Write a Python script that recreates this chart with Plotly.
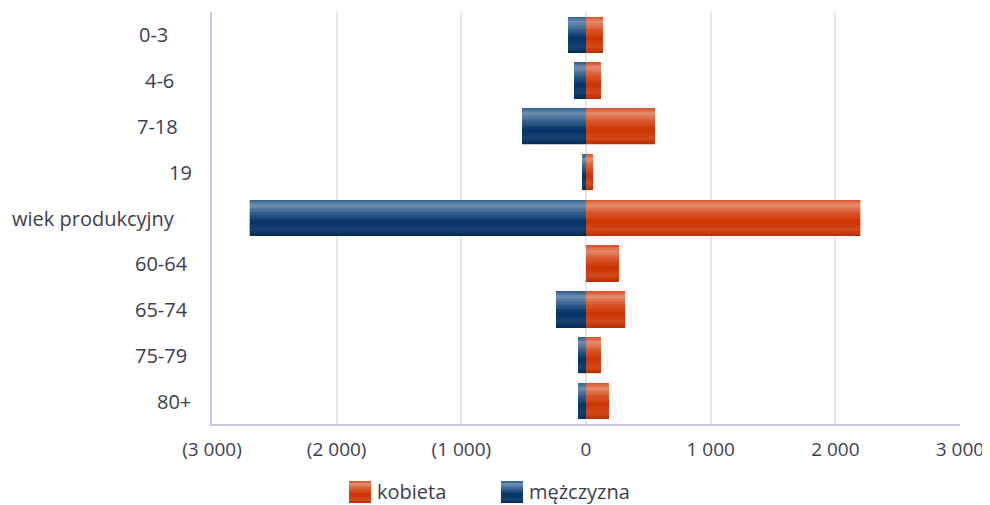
import plotly.graph_objects as go

categories = ["0-3", "4-6", "7-18", "19", "wiek produkcyjny", "60-64", "65-74", "75-79", "80+"]
kobieta = [136, 120, 553, 56, 2200, 265, 313, 120, 184]
mezczyzna = [-144, -96, -513, -32, -2697, 0, -241, -64, -64]
tick_vals = [-3000, -2000, -1000, 0, 1000, 2000, 3000]
tick_text = ["(3 000)", "(2 000)", "(1 000)", "0", "1 000", "2 000", "3 000"]
series_names = ["kobieta", "mężczyzna"]

# layout constants (pixels of the browser window; the page body has an 8px margin)
OFF = 8
W_PX, H_PX = 990 - OFF, 505 - OFF
L, R, T, B = 212 - OFF, 30, 12 - OFF, 81
PW, PH = W_PX - L - R, H_PX - T - B
# centre of each category label, in window pixels
label_centers = [153, 159, 157, 180, 93, 161, 161, 161, 174]

blue_stops = [(0.0, "#2d5b8b"), (0.15, "#6f8fb1"), (0.35, "#3b6491"), (0.62, "#003366"),
              (0.85, "#174271"), (1.0, "#002b58")]
red_stops = [(0.0, "#d84e26"), (0.15, "#e48d70"), (0.35, "#d95a30"), (0.62, "#cc3300"),
             (0.85, "#d1481c"), (1.0, "#b83000")]


def hex2rgb(h):
    h = h.lstrip("#")
    return tuple(int(h[i:i + 2], 16) for i in (0, 2, 4))


def interp(stops, t):
    for (t0, c0), (t1, c1) in zip(stops[:-1], stops[1:]):
        if t0 <= t <= t1:
            a = (t - t0) / (t1 - t0) if t1 > t0 else 0
            r0, g0, b0 = hex2rgb(c0)
            r1, g1, b1 = hex2rgb(c1)
            return "rgb(%d,%d,%d)" % (round(r0 + (r1 - r0) * a), round(g0 + (g1 - g0) * a),
                                      round(b0 + (b1 - b0) * a))
    return stops[-1][1]


def px_x(px):  # window pixel -> paper x
    return (px - OFF - L) / PW


def px_y(py):  # window pixel -> paper y
    return (H_PX - B - (py - OFF)) / PH


fig = go.Figure()
N = 26
Wb = 0.78
step = Wb / N
for vals, stops in [(kobieta, red_stops), (mezczyzna, blue_stops)]:
    for i in range(N):
        t = (i + 0.5) / N
        fig.add_trace(go.Bar(
            y=categories, x=vals, orientation="h",
            offset=-Wb / 2 + i * step, width=step * 1.15 if i < N - 1 else step,
            marker=dict(color=interp(stops, t), line=dict(width=0)),
            showlegend=False, hoverinfo="skip",
        ))

text_color = "#3d3d52"
shapes = []
annotations = []

# category labels (placed on the category axis by index)
for idx, (cat, cx) in enumerate(zip(categories, label_centers)):
    annotations.append(dict(x=px_x(cx), xref="paper", y=idx, yref="y",
                            text=cat, showarrow=False, xanchor="center", yanchor="middle",
                            font=dict(size=20, color=text_color)))

# legend (gradient squares + text)
legend_items = [(series_names[0], red_stops, 349), (series_names[1], blue_stops, 501)]
sq = 22
ytop, ybot = 481, 503
NS = 11
for name, stops, x0 in legend_items:
    for i in range(NS):
        y0p = ytop + i * (ybot - ytop) / NS
        y1p = ytop + (i + 1.15) * (ybot - ytop) / NS if i < NS - 1 else ybot
        shapes.append(dict(type="rect", xref="paper", yref="paper",
                           x0=px_x(x0), x1=px_x(x0 + sq),
                           y0=px_y(y0p), y1=px_y(y1p),
                           fillcolor=interp(stops, (i + 0.5) / NS), line=dict(width=0), layer="above"))
    annotations.append(dict(x=px_x(x0 + sq + 4), xref="paper",
                            y=px_y((ytop + ybot) / 2), yref="paper",
                            text=name, showarrow=False, xanchor="left", yanchor="middle",
                            font=dict(size=20, color=text_color)))

fig.update_layout(
    width=W_PX, height=H_PX,
    barmode="overlay",
    plot_bgcolor="white", paper_bgcolor="white",
    margin=dict(l=L, r=R, t=T, b=B, autoexpand=False),
    font=dict(family="Open Sans, sans-serif", size=19, color=text_color),
    xaxis=dict(range=[-3000, 3000], tickvals=tick_vals, ticktext=tick_text, automargin=False,
               showgrid=True, gridcolor="#e6e6ec", gridwidth=1.5, zeroline=False,
               showline=True, linecolor="#c5c8da", linewidth=2,
               tickfont=dict(family="Open Sans, sans-serif", size=19, color=text_color),
               ticks="", ticklabelstandoff=7),
    yaxis=dict(categoryorder="array", categoryarray=categories, autorange="reversed",
               automargin=False, showticklabels=False,
               showgrid=False, zeroline=False, showline=True, linecolor="#c5c8da", linewidth=1.5,
               ticks=""),
    shapes=shapes,
    annotations=annotations,
    showlegend=False,
)

fig.write_html("out.html")
